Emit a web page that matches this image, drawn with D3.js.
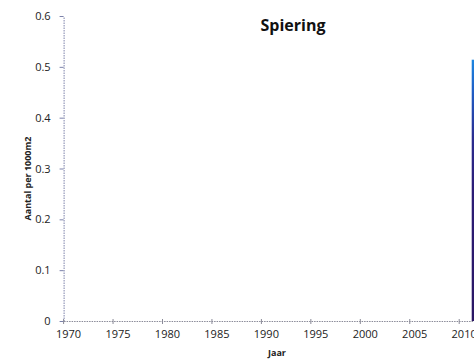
<!DOCTYPE html>
<html>
<head>
<meta charset="utf-8">
<script src="https://cdn.jsdelivr.net/npm/d3@7"></script>
<style>
  html, body { margin: 0; padding: 0; background: #fff; overflow: hidden; }
  svg { display: block; }
  text { font-family: "Open Sans", "DejaVu Sans", sans-serif; }
</style>
</head>
<body>
<svg id="chart" width="474" height="363"></svg>
<script>
// ---- data ----
const years = d3.range(1970, 2012);               // categories 1970..2011
const dataYears = [2011];                          // years with a value
const dataValues = [0.514];                        // Aantal per 1000m2
const yTicks = [0, 0.1, 0.2, 0.3, 0.4, 0.5, 0.6];
const xLabelYears = [1970, 1975, 1980, 1985, 1990, 1995, 2000, 2005, 2010];
const title = "Spiering";
const xTitle = "Jaar";
const yTitle = "Aantal per 1000m2";

const series = dataYears.map((y, i) => ({ year: y, value: dataValues[i] }));

// ---- layout ----
const svg = d3.select("#chart");
const left = 63.6, step = 9.89;
const yTop = 16, yBottom = 321;

const x = d3.scaleBand()
  .domain(years)
  .range([left, left + years.length * step])
  .paddingInner(0.53)
  .paddingOuter(0.265);

const y = d3.scaleLinear().domain([0, 0.6]).range([yBottom, yTop]);

// gradient for bars
const defs = svg.append("defs");
const grad = defs.append("linearGradient")
  .attr("id", "barGrad").attr("x1", 0).attr("y1", 0).attr("x2", 0).attr("y2", 1);
[[0, "#1c86e0"], [0.12, "#1f5ec6"], [0.3, "#2a2c90"], [0.5, "#2b1c76"], [1, "#2a1664"]]
  .forEach(([o, c]) => grad.append("stop").attr("offset", o).attr("stop-color", c));

// bars
svg.append("g").selectAll("rect")
  .data(series)
  .join("rect")
  .attr("x", d => x(d.year))
  .attr("width", x.bandwidth())
  .attr("y", d => y(d.value))
  .attr("height", d => y(0) - y(d.value))
  .attr("fill", "url(#barGrad)");

// y axis
const yAxis = svg.append("g")
  .attr("transform", `translate(${left},0)`)
  .call(d3.axisLeft(y).tickValues(yTicks).tickSize(4).tickSizeOuter(0)
    .tickFormat(d => d === 0 ? "0" : d3.format(".1f")(d)).tickPadding(9));
yAxis.select(".domain").attr("stroke", "#7c82aa").attr("stroke-dasharray", "1.5,1");
yAxis.selectAll(".tick line").attr("stroke", "#7c82aa");
yAxis.selectAll(".tick text").attr("font-size", 11).attr("fill", "#222");

// x axis
const xAxis = svg.append("g")
  .attr("transform", `translate(0,${yBottom})`)
  .call(d3.axisBottom(x).tickValues(xLabelYears).tickSize(0).tickSizeOuter(0).tickPadding(9));
xAxis.select(".domain").attr("stroke", "#8a8a98").attr("stroke-dasharray", "1.5,1");
xAxis.selectAll(".tick text").attr("font-size", 11).attr("fill", "#222");
// tick marks at category boundaries
xAxis.selectAll("line.bound")
  .data(xLabelYears)
  .join("line")
  .attr("class", "bound")
  .attr("x1", d => x(d) - x.step() * x.paddingOuter())
  .attr("x2", d => x(d) - x.step() * x.paddingOuter())
  .attr("y1", -2).attr("y2", 3)
  .attr("stroke", "#8a8a98");

// titles
svg.append("text")
  .attr("x", 293).attr("y", 31)
  .attr("text-anchor", "middle")
  .attr("font-size", 16).attr("font-weight", "bold").attr("fill", "#111")
  .text(title);

svg.append("text")
  .attr("x", 277).attr("y", 356)
  .attr("text-anchor", "middle")
  .attr("font-size", 9).attr("font-weight", "bold").attr("fill", "#222")
  .text(xTitle);

svg.append("text")
  .attr("transform", `translate(31,${(yTop + yBottom) / 2 + 10}) rotate(-90)`)
  .attr("text-anchor", "middle")
  .attr("font-size", 9).attr("font-weight", "bold").attr("fill", "#222")
  .text(yTitle);
</script>
</body>
</html>
